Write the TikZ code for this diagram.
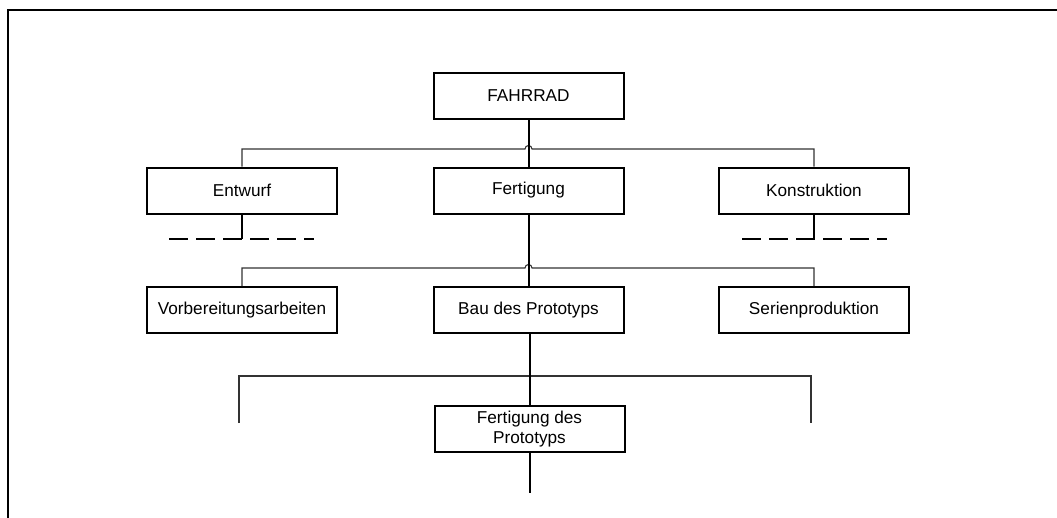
\documentclass[tikz,border=0pt]{standalone}
\usepackage{fontspec}
\setmainfont{Liberation Sans}
\begin{document}
\begin{tikzpicture}[x=1pt,y=-1pt,
  box/.style={draw=black, line width=2pt, minimum width=190pt, minimum height=46pt, inner sep=0pt, align=center, font=\fontsize{17.2}{20}\selectfont},
  thin/.style={draw=black!80, line width=1.1pt},
  trunk/.style={draw=black, line width=2pt},
  dashline/.style={draw=black, line width=2pt, dash pattern=on 19pt off 8pt}]
\useasboundingbox (0,0) rectangle (1057,517);
% frame
\draw[line width=2.2pt] (8,520) -- (8,10) -- (1060,10);
% nodes
\node[box] (fah) at (528.5,95.5) {FAHRRAD};
\node[box] (ent) at (242,190.5) {Entwurf};
\node[box] (fer) at (528.5,190.5) {Fertigung};
\node[box] (kon) at (814,190.5) {Konstruktion};
\node[box] (vor) at (242,310) {Vorbereitungsarbeiten};
\node[box] (bau) at (528.5,310) {Bau des Prototyps};
\node[box] (ser) at (814,310) {Serienproduktion};
\node[box] (fdp) at (529.5,429) {Fertigung des\\Prototyps};
% level 1 branch with jump
\coordinate (j1) at (528.5,149);
\draw[thin] (ent.north) -- (ent.north |- j1) -- ([xshift=-3.5pt]j1) arc[start angle=180,end angle=360,radius=3.5] -- (kon.north |- j1) -- (kon.north);
\draw[trunk] (fah.south) -- (fer.north);
% dashes below Entwurf and Konstruktion
\coordinate (d1a) at (169,238.5);
\coordinate (d1b) at (314,238.5);
\coordinate (d2a) at (742,238.5);
\coordinate (d2b) at (887,238.5);
\draw[dashline] (d1a) -- (d1b);
\draw[dashline] (d2a) -- (d2b);
\draw[trunk] (ent.south) -- (ent.south |- d1a);
\draw[trunk] (kon.south) -- (kon.south |- d2a);
% level 2 branch with jump
\coordinate (j2) at (528.5,268);
\draw[thin] (vor.north) -- (vor.north |- j2) -- ([xshift=-3.5pt]j2) arc[start angle=180,end angle=360,radius=3.5] -- (ser.north |- j2) -- (ser.north);
\draw[trunk] (fer.south) -- (bau.north);
% level 3 branch
\coordinate (l3) at (239,423);
\coordinate (r3) at (811,423);
\coordinate (h3) at (528.5,376);
\draw[thin] (l3) -- (l3 |- h3) -- (r3 |- h3) -- (r3);
\draw[trunk] (bau.south) -- (bau.south -| fdp.north) -- (fdp.north);
\coordinate (endb) at (529.5,493);
\draw[trunk] (fdp.south) -- (endb);
\end{tikzpicture}
\end{document}
